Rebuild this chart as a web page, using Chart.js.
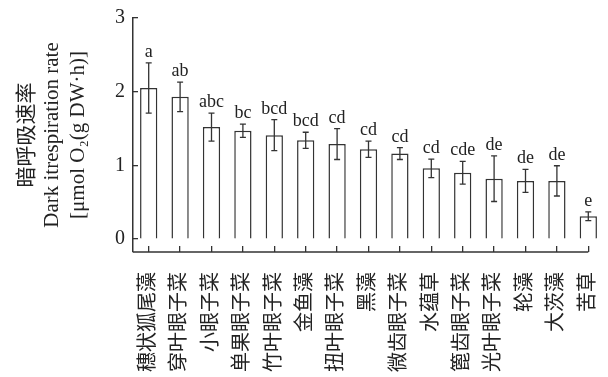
<!DOCTYPE html>
<html>
<head>
<meta charset="utf-8">
<script src="https://cdn.jsdelivr.net/npm/chart.js@4.4.0/dist/chart.umd.min.js"></script>
<style>
  body { margin: 0; background: #fff; }
  #wrap { width: 608px; height: 377px; }
</style>
</head>
<body>
<div id="wrap"><canvas id="darkChart"></canvas></div>
<script>
var species = ['穗状狐尾藻', '穿叶眼子菜', '小眼子菜', '单果眼子菜', '竹叶眼子菜', '金鱼藻', '扭叶眼子菜', '黑藻',
    '微齿眼子菜', '水蕴草', '篦齿眼子菜', '光叶眼子菜', '轮藻', '大茨藻', '苦草'];
var rateMean = [2.05, 1.93, 1.52, 1.47, 1.41, 1.34, 1.29, 1.22, 1.16, 0.96, 0.90, 0.82, 0.79, 0.79, 0.31];
var rateErr = [0.34, 0.20, 0.19, 0.09, 0.21, 0.11, 0.21, 0.11, 0.08, 0.125, 0.155, 0.31, 0.155, 0.205, 0.06];
var sigLetters = ['a', 'ab', 'abc', 'bc', 'bcd', 'bcd', 'cd', 'cd', 'cd', 'cd', 'cde', 'de', 'de', 'de', 'e'];
var yTicks = [0, 1, 2, 3];

var serif = "'Liberation Serif', 'Noto Sans CJK SC', serif";
var ink = '#333';

// error bars, letters and the short x axis line
var errorBars = {
    id: 'errorBars',
    afterDatasetsDraw: function (chart) {
        var ctx = chart.ctx;
        var y = chart.scales.y;
        var x = chart.scales.x;
        var meta = chart.getDatasetMeta(0);
        ctx.save();
        ctx.strokeStyle = ink;
        ctx.fillStyle = '#222';
        ctx.lineWidth = 1.3;
        ctx.font = '18px ' + serif;
        ctx.textAlign = 'center';
        ctx.textBaseline = 'alphabetic';
        meta.data.forEach(function (bar, i) {
            var top = y.getPixelForValue(rateMean[i] + rateErr[i]);
            var bot = y.getPixelForValue(rateMean[i] - rateErr[i]);
            ctx.beginPath();
            ctx.moveTo(bar.x, top);
            ctx.lineTo(bar.x, bot);
            ctx.moveTo(bar.x - 3, top);
            ctx.lineTo(bar.x + 3, top);
            ctx.moveTo(bar.x - 3, bot);
            ctx.lineTo(bar.x + 3, bot);
            ctx.stroke();
            ctx.fillText(sigLetters[i], bar.x, top - 6);
        });
        // x axis runs from the y axis to the last tick
        ctx.lineWidth = 1.5;
        ctx.beginPath();
        ctx.moveTo(x.left, x.top);
        ctx.lineTo(x.getPixelForTick(species.length - 1), x.top);
        ctx.stroke();
        ctx.restore();
    }
};

function noEdgePadding(scale) {
    scale.paddingLeft = 0;
    scale.paddingRight = 0;
    scale.paddingTop = 0;
    scale.paddingBottom = 0;
}

var ctx1 = document.getElementById('darkChart').getContext('2d');
var darkChart = new Chart(ctx1, {
    type: 'bar',
    data: {
        labels: species,
        datasets: [{
            data: rateMean,
            backgroundColor: '#fff',
            borderColor: ink,
            borderWidth: 1.5,
            categoryPercentage: 1,
            barPercentage: 0.55
        }]
    },
    options: {
        responsive: true,
        maintainAspectRatio: false,
        animation: false,
        layout: { padding: { left: 15, right: 4, top: 18, bottom: 0 } },
        plugins: {
            legend: { display: false },
            tooltip: { enabled: false }
        },
        scales: {
            x: {
                grid: { display: true, offset: false, drawOnChartArea: false, drawTicks: true, tickLength: -6, color: ink, lineWidth: 1.3 },
                border: { display: false },
                ticks: {
                    autoSkip: false, minRotation: 90, maxRotation: 90, padding: 26, color: '#222',
                    font: { family: serif, size: 20 }
                },
                afterFit: function (scale) {
                    scale.height = 125;
                    noEdgePadding(scale);
                }
            },
            y: {
                min: -0.175,
                max: 3,
                afterBuildTicks: function (scale) {
                    scale.ticks = yTicks.map(function (v) { return { value: v }; });
                },
                grid: { display: true, drawOnChartArea: false, drawTicks: true, tickLength: -5, color: ink, lineWidth: 1.3 },
                border: { display: true, color: ink, width: 1.5 },
                ticks: {
                    padding: 13, color: '#222',
                    font: { family: serif, size: 20 }
                },
                title: {
                    display: true,
                    text: ['暗呼吸速率', 'Dark itrespiration rate', '[μmol O₂(g DW·h)]'],
                    color: '#222',
                    padding: 0,
                    font: { family: serif, size: 21, lineHeight: 1.2 }
                },
                afterFit: function (scale) {
                    scale.width = 118;
                    noEdgePadding(scale);
                }
            }
        }
    },
    plugins: [errorBars]
});
</script>
</body>
</html>
